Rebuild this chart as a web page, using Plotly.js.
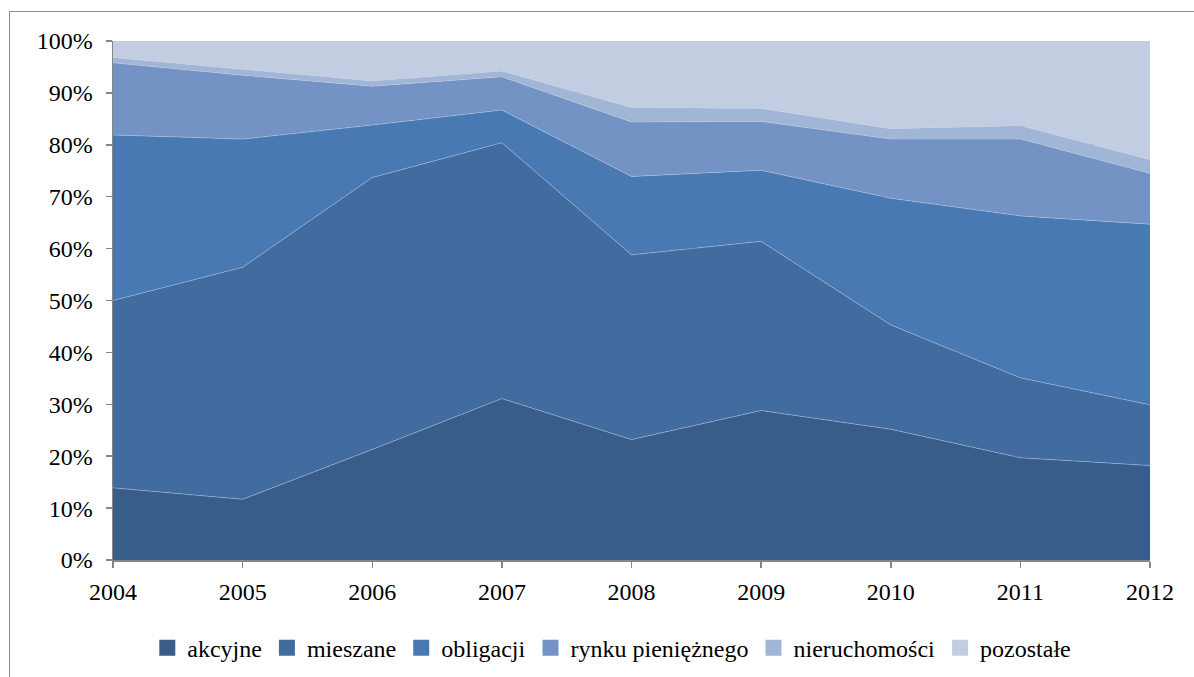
<!DOCTYPE html>
<html>
<head>
<meta charset="utf-8">
<script src="https://cdn.plot.ly/plotly-3.0.1.min.js"></script>
<style>
  html, body { margin: 0; padding: 0; background: #fff; overflow: hidden; }
  #frame { position: absolute; left: 9px; top: 11px; width: 1200px; height: 700px; border: 1px solid #8c8c8c; box-sizing: border-box; }
  #chart { position: absolute; left: 0; top: 0; width: 1194px; height: 677px; }
</style>
</head>
<body>
<div id="frame"></div>
<div id="chart"></div>
<script>
const years = [2004, 2005, 2006, 2007, 2008, 2009, 2010, 2011, 2012];
const seriesNames = ['akcyjne', 'mieszane', 'obligacji', 'rynku pieniężnego', 'nieruchomości', 'pozostałe'];
const akcyjne       = [13.9, 11.7, 21.3, 31.1, 23.2, 28.8, 25.2, 19.7, 18.2];
const mieszane      = [36.1, 44.7, 52.4, 49.3, 35.6, 32.6, 20.1, 15.4, 11.7];
const obligacji     = [31.9, 24.7, 10.1, 6.3, 15.1, 13.7, 24.4, 31.2, 34.8];
const rynku         = [13.9, 12.3, 7.5, 6.4, 10.5, 9.4, 11.4, 14.8, 9.8];
const nieruchomosci = [1.0, 1.1, 1.0, 1.1, 2.8, 2.5, 2.0, 2.6, 2.6];
const pozostale     = [3.2, 5.5, 7.7, 5.8, 12.8, 13.0, 16.9, 16.3, 22.9];
const yTickVals = [0, 10, 20, 30, 40, 50, 60, 70, 80, 90, 100];
const yTickText = ['0%', '10%', '20%', '30%', '40%', '50%', '60%', '70%', '80%', '90%', '100%'];

const values = [akcyjne, mieszane, obligacji, rynku, nieruchomosci, pozostale];
const colors = ['#395D8A', '#426C9F', '#4879B3', '#7293C4', '#A1B5D7', '#C3CDE2'];

const traces = [];
values.forEach((v, i) => {
  traces.push({
    type: 'scatter', mode: 'lines', x: years, y: v,
    stackgroup: 'one', name: seriesNames[i], showlegend: false,
    fillcolor: colors[i],
    line: { color: 'rgba(190,205,230,0.55)', width: 0.8 },
    hoverinfo: 'skip'
  });
});
values.forEach((v, i) => {
  traces.push({
    type: 'scatter', mode: 'markers', x: [null], y: [null],
    name: seriesNames[i], showlegend: true,
    marker: { symbol: 'square', size: 16, color: colors[i], line: { width: 0 } }
  });
});

const fam = 'Liberation Serif, Times New Roman, Tinos, DejaVu Serif, serif';
const font = { family: fam, size: 24, color: '#000' };

const layout = {
  width: 1194, height: 677,
  paper_bgcolor: 'rgba(0,0,0,0)', plot_bgcolor: 'rgba(0,0,0,0)',
  margin: { l: 113, r: 44, t: 41, b: 117, autoexpand: false },
  font: font,
  showlegend: true,
  legend: {
    orientation: 'h', x: 0.481, xanchor: 'center', y: -0.17, yanchor: 'middle',
    font: { family: fam, size: 24, color: '#000' }, itemsizing: 'trace', tracegroupgap: 0, traceorder: 'normal'
  },
  xaxis: {
    range: [2004, 2012], tickvals: years, ticktext: years.map(String),
    showgrid: false, zeroline: false,
    showline: true, linecolor: '#868686', linewidth: 1.5,
    ticks: 'outside', ticklen: 6, tickcolor: '#868686', tickwidth: 1.5,
    tickfont: { family: fam, size: 24, color: '#000' }, ticklabelstandoff: 4
  },
  yaxis: {
    range: [0, 100], tickvals: yTickVals, ticktext: yTickText,
    showgrid: true, gridcolor: '#868686', gridwidth: 1, zeroline: false,
    showline: true, linecolor: '#868686', linewidth: 1.5,
    ticks: 'outside', ticklen: 6, tickcolor: '#868686', tickwidth: 1.5,
    tickfont: { family: fam, size: 24, color: '#000' }, ticklabelstandoff: 8
  }
};

Plotly.newPlot('chart', traces, layout, { displayModeBar: false, staticPlot: true });
</script>
</body>
</html>
